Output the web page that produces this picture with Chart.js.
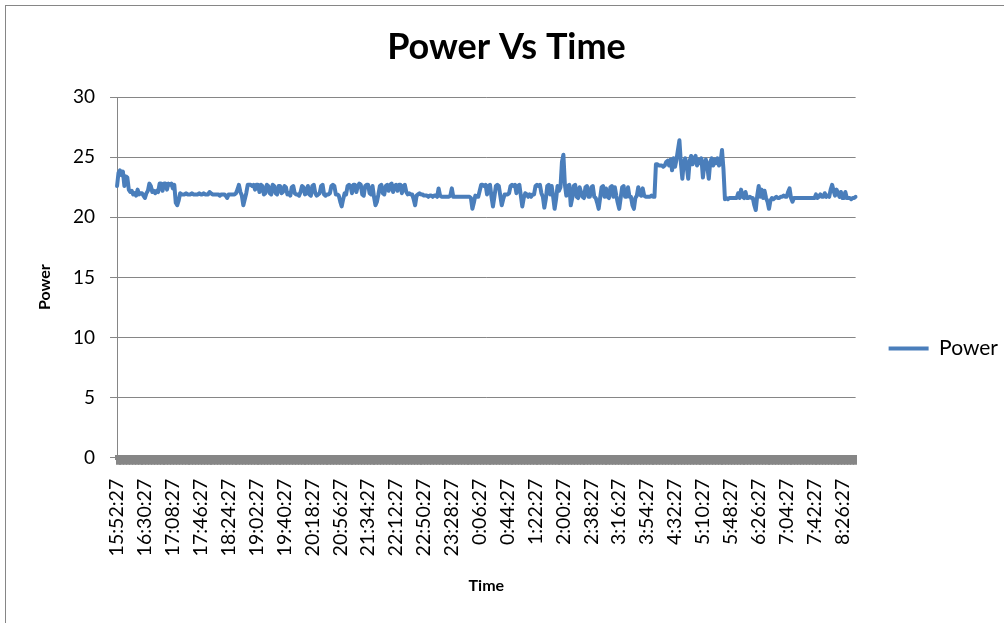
<!DOCTYPE html>
<html>
<head>
<meta charset="utf-8">
<title>Power Vs Time</title>
<script src="https://cdn.jsdelivr.net/npm/chart.js@4.4.1/dist/chart.umd.min.js"></script>
<style>
  html, body { margin: 0; padding: 0; background: #fff; overflow: hidden; }
  #frame { position: absolute; left: 5px; top: 5px; width: 1100px; height: 700px; border: 1px solid #868686; }
  #chart { position: absolute; left: 0; top: 0; }
</style>
</head>
<body>
<div id="frame"></div>
<canvas id="chart" width="1004" height="623"></canvas>
<script>
// time labels shown on the x axis (one every 19 readings)
const tickLabels = [
  '15:52:27', '16:30:27', '17:08:27', '17:46:27', '18:24:27', '19:02:27', '19:40:27',
  '20:18:27', '20:56:27', '21:34:27', '22:12:27', '22:50:27', '23:28:27', '0:06:27',
  '0:44:27', '1:22:27', '2:00:27', '2:38:27', '3:16:27', '3:54:27', '4:32:27',
  '5:10:27', '5:48:27', '6:26:27', '7:04:27', '7:42:27', '8:26:27'
];
const readingsPerLabel = 19;

// power readings
const powerEvening = [
  22.6, 23.7, 23.9, 23.5, 23.8, 22.6, 23.4, 23.3, 22.3, 22.1, 22.2, 21.9, 22.0, 21.8, 22.3, 21.9, 22.0, 22.0, 21.8,
  21.6, 22.0, 22.2, 22.8, 22.6, 22.1, 22.2, 22.0, 22.2, 22.1, 22.8, 22.8, 22.2, 22.8, 22.8, 22.3, 22.8, 22.7, 22.8,
  22.4, 22.7, 21.2, 21.0, 21.4, 22.0, 21.9, 21.9, 21.9, 22.0, 21.9, 21.9, 21.9, 22.0, 21.9, 21.9, 21.9, 21.9, 22.0,
  21.9, 21.9, 22.0, 21.9, 21.9, 21.9, 22.1, 22.0, 21.9, 21.9, 21.9, 21.9, 21.9, 21.8, 21.9, 21.9, 21.9, 21.8, 21.6,
  21.9, 21.9, 21.9, 21.9, 21.9, 22.0, 22.3, 22.7, 22.1, 21.8, 21.0, 21.5, 22.0, 22.7, 22.7, 22.7, 22.6, 22.7, 22.3,
  22.7, 22.7, 22.1, 22.7, 22.6, 21.9, 22.0, 22.7, 22.6, 22.0, 21.9, 22.7, 22.6, 22.0, 21.9, 22.6, 22.6, 22.0, 22.1,
  22.6, 22.5, 21.9, 22.0, 21.8, 22.5, 22.6, 22.0, 21.9, 21.9, 21.8, 22.1, 22.6, 22.5, 21.9, 22.0, 22.6, 21.9, 21.8,
  22.6, 22.7, 22.0, 21.8, 21.9, 22.0, 22.6, 22.7, 21.9, 21.8, 21.9, 21.9, 22.0, 22.6, 22.7, 22.6, 21.9, 21.9, 21.8,
  21.3, 20.9, 21.5, 22.0, 21.9, 22.6, 22.7, 22.6, 22.0, 22.7, 22.7, 22.1, 22.6, 22.8, 22.7, 21.9, 21.8, 22.6, 22.7
];
const powerNight = [
  22.7, 22.0, 21.9, 22.6, 21.7, 21.0, 21.3, 21.9, 22.6, 22.7, 22.0, 21.9, 22.6, 22.7, 22.2, 22.7, 22.8, 22.1, 22.6,
  22.7, 22.2, 22.7, 22.7, 22.0, 22.6, 22.7, 22.1, 21.9, 22.0, 21.9, 21.9, 21.5, 21.0, 21.8, 21.9, 22.0, 21.9, 21.9,
  21.8, 21.8, 21.8, 21.7, 21.8, 21.8, 21.7, 21.8, 21.8, 21.7, 22.4, 21.8, 21.7, 21.7, 21.7, 21.7, 21.7, 21.7, 21.8,
  22.4, 21.7, 21.7, 21.7, 21.7, 21.7, 21.7, 21.7, 21.7, 21.7, 21.7, 21.7, 21.7, 21.6, 20.7, 21.2, 21.8, 21.7, 21.7,
  22.2, 22.7, 22.7, 22.6, 22.7, 21.9, 22.6, 22.7, 21.7, 20.9, 21.7, 22.6, 22.7, 22.6, 21.8, 21.0, 21.5, 21.9, 21.9,
  21.9, 22.0, 22.6, 22.7, 22.6, 22.7, 22.0, 22.6, 22.7, 21.8, 20.9, 21.6, 22.0, 21.9, 21.7, 21.9, 21.7, 21.9, 21.9,
  22.6, 22.7, 22.6, 22.7, 22.0, 21.7, 20.8, 21.5, 22.6, 22.7, 21.9, 22.6, 21.7, 20.7, 21.5, 22.6, 22.2, 22.5, 24.6,
  25.2, 22.7, 21.8, 22.6, 22.7, 21.0, 21.6, 22.6, 22.7, 21.7, 21.6, 22.5, 22.1, 21.7, 21.6, 22.5, 22.6, 21.7, 21.7,
  22.5, 22.6, 21.7, 21.6, 21.2, 20.7, 21.6, 22.5, 22.6, 21.7, 22.4, 21.7, 21.6, 22.5, 22.6, 21.7, 22.5, 21.8, 21.2,
  20.7, 21.6, 22.5, 22.6, 21.7, 21.7, 22.5, 21.7, 21.7, 21.0, 20.7, 21.6, 21.8, 22.5, 21.9, 21.8, 22.4, 21.8, 21.7
];
const powerMorning = [
  21.7, 21.7, 21.7, 21.8, 21.7, 21.7, 24.4, 24.4, 24.3, 24.3, 24.3, 24.2, 24.3, 24.6, 24.7, 24.3, 24.8, 23.9, 24.9,
  24.2, 24.8, 25.6, 26.4, 24.5, 23.2, 24.6, 24.9, 24.2, 23.2, 24.7, 25.1, 24.4, 24.9, 25.1, 24.3, 24.8, 24.5, 24.9,
  23.3, 24.4, 24.8, 24.2, 23.2, 24.6, 24.9, 24.3, 24.8, 24.5, 24.9, 24.3, 24.6, 25.6, 24.0, 21.5, 21.6, 21.5, 21.6,
  21.6, 21.6, 21.6, 21.6, 21.6, 22.0, 21.6, 22.3, 21.7, 21.6, 22.1, 21.6, 21.6, 21.7, 21.6, 21.6, 21.0, 20.6, 21.8,
  22.6, 21.7, 22.3, 21.6, 22.2, 21.6, 21.3, 20.7, 21.4, 21.6, 21.5, 21.6, 21.7, 21.6, 21.6, 21.7, 21.7, 21.8, 21.7,
  21.7, 22.1, 22.4, 21.6, 21.3, 21.6, 21.6, 21.6, 21.6, 21.6, 21.6, 21.6, 21.6, 21.6, 21.6, 21.6, 21.6, 21.6, 21.6,
  21.6, 21.9, 21.6, 21.7, 21.9, 21.7, 21.7, 22.0, 21.7, 21.8, 21.7, 22.3, 22.7, 22.2, 21.8, 22.3, 22.0, 21.7, 22.1,
  21.6, 21.6, 22.1, 21.6, 21.6, 21.6, 21.5, 21.6, 21.6, 21.7
];

const power = powerEvening.concat(powerNight, powerMorning);
const categories = power.map((v, i) => i % readingsPerLabel === 0 ? tickLabels[i / readingsPerLabel] : '');

const axisGrey = '#868686';
const font = 'Lato';

new Chart(document.getElementById('chart'), {
    type: 'line',
    data: {
        labels: categories,
        datasets: [{
            label: 'Power',
            data: power,
            borderColor: '#4A7EBB',
            backgroundColor: '#4A7EBB',
            borderWidth: 4,
            pointRadius: 0,
            tension: 0,
            borderJoinStyle: 'round',
            borderCapStyle: 'round'
        }]
    },
    options: {
        responsive: false,
        animation: false,
        devicePixelRatio: 1,
        layout: {
            padding: { left: 5, top: 10, right: -4, bottom: 23.4 }
        },
        plugins: {
            title: {
                display: true,
                text: 'Power Vs Time',
                color: '#000',
                font: { family: font, size: 36, weight: 'bold' },
                padding: { top: 15.4, bottom: 28.4 }
            },
            legend: {
                position: 'right',
                labels: {
                    usePointStyle: true,
                    pointStyle: 'line',
                    pointStyleWidth: 40,
                    padding: 33,
                    color: '#000',
                    font: { family: font, size: 21 }
                },
                // empty legend title only pushes the entry down to mid-height
                title: {
                    display: true,
                    text: '',
                    font: { size: 1 },
                    padding: { top: 86, bottom: 0 }
                }
            },
            tooltip: { enabled: false }
        },
        scales: {
            x: {
                ticks: {
                    autoSkip: false,
                    maxRotation: 90,
                    minRotation: 90,
                    padding: 14,
                    color: '#000',
                    font: { family: font, size: 19.5 }
                },
                grid: { drawOnChartArea: false, tickLength: 7, color: axisGrey, lineWidth: 2 },
                border: { color: axisGrey, width: 5 },
                title: {
                    display: true,
                    text: 'Time',
                    color: '#000',
                    font: { family: font, size: 16, weight: 'bold' },
                    padding: { top: 6, bottom: 4 }
                }
            },
            y: {
                min: 0,
                max: 30,
                ticks: {
                    stepSize: 5,
                    padding: 15,
                    color: '#000',
                    font: { family: font, size: 19 }
                },
                grid: { color: axisGrey, tickLength: 7 },
                border: { color: axisGrey },
                title: {
                    display: true,
                    text: 'Power     ',
                    color: '#000',
                    font: { family: font, size: 16, weight: 'bold' },
                    padding: { top: 30.4, bottom: 3.4 }
                }
            }
        }
    }
});
</script>
</body>
</html>
